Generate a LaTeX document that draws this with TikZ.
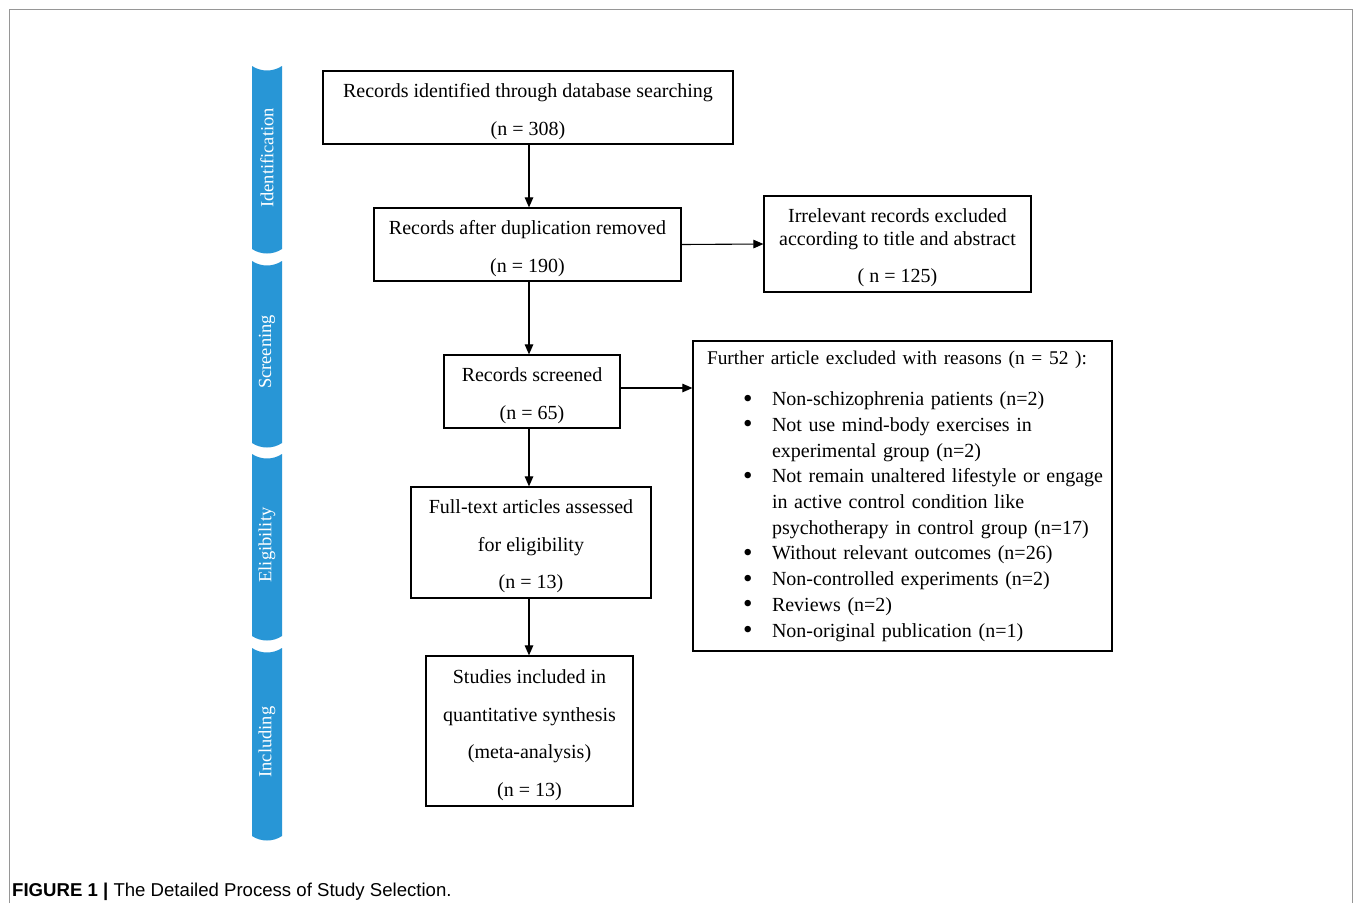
\documentclass[tikz,border=0pt]{standalone}
\usepackage{fontspec}
\setmainfont{Liberation Serif}
\newfontfamily\capfont{Liberation Sans}
\usetikzlibrary{arrows.meta}
\definecolor{barblue}{RGB}{40,150,214}
\definecolor{framegray}{RGB}{150,150,150}
\newcommand{\tstrut}{\rule{0pt}{22pt}}
\newcommand{\bul}[1]{\mbox{\hspace*{36pt}\makebox[29pt][l]{\raisebox{-1.5pt}{\fontsize{27}{20}\selectfont •}}#1}}
\newcommand{\cont}[1]{\mbox{\hspace*{65pt}#1}}
\begin{document}
\begin{tikzpicture}[x=1pt,y=-1pt,
  box/.style={draw, line width=1.2pt, inner sep=0pt, align=center, font=\fontsize{20}{37.5}\selectfont},
  arr/.style={line width=1.1pt, -{Triangle[length=10pt,width=8.5pt]}},
  bartext/.style={rotate=90, text=white, inner sep=0pt, font=\fontsize{18.5}{18.5}\selectfont}]
\useasboundingbox (0,0) rectangle (1355,903);
\fill[white] (0,0) rectangle (1355,903);
\draw[framegray, line width=1.5pt] (9.5,903) -- (9.5,9.5) -- (1352.5,9.5) -- (1352.5,903);

% stage bars
\foreach \ya/\yb in {66/249, 261/443, 454/636, 648/836}{
  \fill[barblue] (252,\ya) .. controls (261,\ya+6) and (273,\ya+6) .. (282,\ya)
     -- (282,\yb) .. controls (273,\yb+6) and (261,\yb+6) .. (252,\yb) -- cycle;
}
\node[bartext] (l1) at (267,158) {Identification};
\node[bartext] (l2) at (267,352) {Screening};
\node[bartext] (l3) at (267,545) {Eligibility};
\node[bartext] (l4) at (267,742) {Including};

% boxes
\node[box, minimum width=410pt, minimum height=73pt] (A) at (528,107.5)
  {\tstrut Records identified through database searching\\(n = 308)};
\node[box, minimum width=307pt, minimum height=73pt] (B) at (527.5,244.5)
  {\tstrut Records after duplication removed\\(n = 190)};
\node[box, minimum width=267pt, minimum height=96pt, font=\fontsize{20}{23}\selectfont] (C) at (897.5,244)
  {\tstrut Irrelevant records excluded\\according to title and abstract\\[14pt]( n = 125)};
\node[box, minimum width=176pt, minimum height=73pt] (D) at (532,391.5)
  {\tstrut Records screened\\(n = 65)};
\node[box, minimum width=240pt, minimum height=111pt] (F) at (531,542.5)
  {\tstrut Full-text articles assessed\\for eligibility\\(n = 13)};
\node[box, minimum width=207pt, minimum height=150pt] (G) at (529.5,731)
  {\tstrut Studies included in\\quantitative synthesis\\(meta-analysis)\\(n = 13)};
\node[box, text width=391pt, inner xsep=14pt, minimum height=310pt, align=left,
      font=\fontsize{20}{25.7}\selectfont] (E) at (902.5,496)
  {\mbox{\fontsize{19.4}{25.7}\selectfont Further article excluded with reasons (n = 52 ):}\\[16pt]
   \bul{Non-schizophrenia patients (n=2)}\\
   \bul{Not use mind-body exercises in}\\
   \cont{experimental group (n=2)}\\
   \bul{Not remain unaltered lifestyle or engage}\\
   \cont{in active control condition like}\\
   \cont{psychotherapy in control group (n=17)}\\
   \bul{Without relevant outcomes (n=26)}\\
   \bul{Non-controlled experiments (n=2)}\\
   \bul{Reviews (n=2)}\\
   \bul{Non-original publication (n=1)}};

% connectors
\coordinate (spine) at (529,0);
\coordinate (dr) at (620,388);
\draw[arr] (A.south -| spine) -- (B.north -| spine);
\draw[arr] (B.south -| spine) -- (D.north -| spine);
\draw[arr] (D.south -| spine) -- (F.north -| spine);
\draw[arr] (F.south -| spine) -- (G.north -| spine);
\draw[arr] (B.east) -- (C.west);
\draw[arr] (D.east |- dr) -- (E.west |- dr);

% caption
\node[anchor=base west, inner sep=0pt, font=\capfont\fontsize{18.6}{18.6}\selectfont] (cap) at (12,896)
  {\textbf{FIGURE 1 |} The Detailed Process of Study Selection.};
\end{tikzpicture}
\end{document}
